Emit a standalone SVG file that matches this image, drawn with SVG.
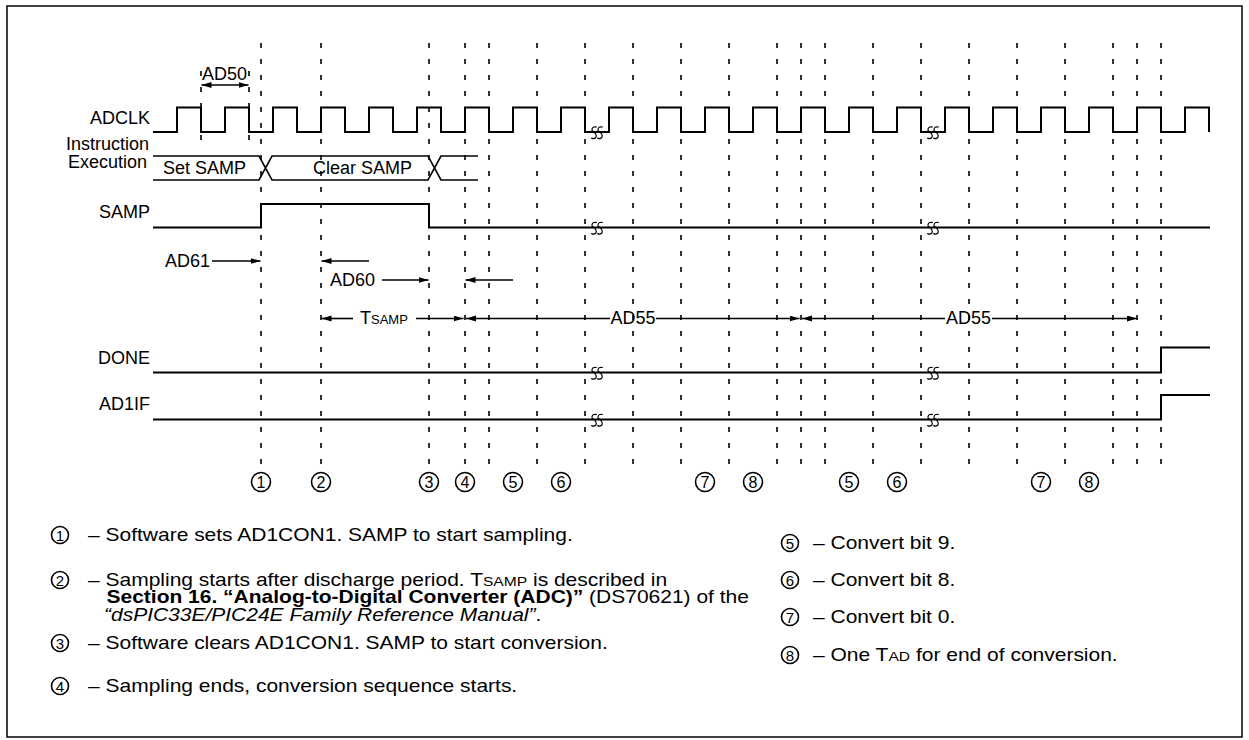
<svg xmlns="http://www.w3.org/2000/svg" width="1249" height="740" viewBox="0 0 1249 740">
<style>
text{font-family:"Liberation Sans",Arial,Helvetica,sans-serif;fill:#000}
.lbl{font-size:18px}
.sm{font-size:13px}
.leg{font-size:17.5px}
.legs{font-size:13px}
.num{font-size:16px;text-anchor:middle}
.lnum{font-size:15px;text-anchor:middle}
.wave{fill:none;stroke:#000;stroke-width:2}
.bus{fill:none;stroke:#000;stroke-width:1.6}
.dash{stroke:#000;stroke-width:1.6;stroke-dasharray:5 11}
.arr{stroke:#000;stroke-width:1.6;fill:none;marker-end:url(#ah)}
.arr2{stroke:#000;stroke-width:1.6;fill:none;marker-start:url(#ah);marker-end:url(#ah)}
.sq{fill:none;stroke:#000;stroke-width:1.2}
.circ{fill:none;stroke:#000;stroke-width:1.6}
</style>
<defs>
<marker id="ah" markerUnits="userSpaceOnUse" markerWidth="11" markerHeight="7" refX="10" refY="3" orient="auto-start-reverse"><path d="M0,0 L10,3 L0,6 z" fill="#000"/></marker>
<path id="s" d="M2.8,-5.5 Q-2.5,-6.5 -2,-2 Q2.8,1.5 2.2,4.2 Q1.2,7 -2.8,5.6"/>
</defs>
<rect x="7" y="6" width="1235" height="731" fill="none" stroke="#000" stroke-width="1.5"/>

<g id="gridlines">
<line class="dash" x1="201" y1="71" x2="201" y2="148"/>
<line class="dash" x1="249" y1="71" x2="249" y2="148"/>
<path class="dash" d="M261,43V464M321,43V464M429,43V464M465,43V464M489,43V464M537,43V464M585,43V464M633,43V464M681,43V464M729,43V464M777,43V464M801,43V464M825,43V464M873,43V464M921,43V464M969,43V464M1017,43V464M1065,43V464M1113,43V464M1137,43V464M1161,43V464"/>
</g>

<g id="sig-adclk">
<text class="lbl" x="150" y="123.5" text-anchor="end">ADCLK</text>
<path class="wave" d="M153,132H177V107.5H201V132H225V107.5H249V132H273V107.5H297V132H321V107.5H345V132H369V107.5H393V132H417V107.5H441V132H465V107.5H489V132H513V107.5H537V132H561V107.5H585V132H609V107.5H633V132H657V107.5H681V132H705V107.5H729V132H753V107.5H777V132H801V107.5H825V132H849V107.5H873V132H897V107.5H921V132H945V107.5H969V132H993V107.5H1017V132H1041V107.5H1065V132H1089V107.5H1113V132H1137V107.5H1161V132H1185V107.5H1209V132"/>
<use href="#s" class="sq" x="594" y="132.5"/><use href="#s" class="sq" x="600" y="132.5"/>
<use href="#s" class="sq" x="930" y="132.5"/><use href="#s" class="sq" x="936" y="132.5"/>
</g>

<g id="sig-instr">
<text class="lbl" x="149" y="150" text-anchor="end">Instruction</text>
<text class="lbl" x="147" y="168" text-anchor="end">Execution</text>
<path class="bus" d="M153,156H259L272,180H428L441,156H478M153,180H259L272,156H428L441,180H478"/>
<text class="lbl" x="163" y="174">Set SAMP</text>
<text class="lbl" x="313" y="174">Clear SAMP</text>
</g>

<g id="sig-samp">
<text class="lbl" x="150" y="218" text-anchor="end">SAMP</text>
<path class="wave" d="M153,227.5H261V204H429V227.5H1210"/>
<use href="#s" class="sq" x="594" y="228"/><use href="#s" class="sq" x="600" y="228"/>
<use href="#s" class="sq" x="930" y="228"/><use href="#s" class="sq" x="936" y="228"/>
</g>

<g id="sig-done">
<text class="lbl" x="150" y="363.5" text-anchor="end">DONE</text>
<path class="wave" d="M153,372.5H1161V347.5H1210"/>
<use href="#s" class="sq" x="594" y="373"/><use href="#s" class="sq" x="600" y="373"/>
<use href="#s" class="sq" x="930" y="373"/><use href="#s" class="sq" x="936" y="373"/>
</g>

<g id="sig-ad1if">
<text class="lbl" x="150" y="410" text-anchor="end">AD1IF</text>
<path class="wave" d="M153,419.5H1161V395H1210"/>
<use href="#s" class="sq" x="594" y="420"/><use href="#s" class="sq" x="600" y="420"/>
<use href="#s" class="sq" x="930" y="420"/><use href="#s" class="sq" x="936" y="420"/>
</g>

<g id="connectors">
<path class="arr2" d="M201.5,85H248.5"/>
<path class="arr" d="M212,261H260.5"/>
<path class="arr" d="M369,261H321.5"/>
<path class="arr" d="M382,280H428.5"/>
<path class="arr" d="M513,280H465.5"/>
<path class="arr" d="M353,318.5H321.5"/>
<path class="arr" d="M416,318.5H463.5"/>
<path class="arr" d="M610,318.5H466"/>
<path class="arr" d="M656,318.5H799.5"/>
<path class="arr" d="M945,318.5H802"/>
<path class="arr" d="M992,318.5H1137"/>
</g>

<g id="timing-labels">
<text class="lbl" x="224.5" y="79.5" text-anchor="middle">AD50</text>
<text class="lbl" x="165" y="266.5">AD61</text>
<text class="lbl" x="330" y="285.5">AD60</text>
<text class="lbl" x="360" y="323.5">T<tspan class="sm">SAMP</tspan></text>
<text class="lbl" x="633" y="323.5" text-anchor="middle">AD55</text>
<text class="lbl" x="968.5" y="323.5" text-anchor="middle">AD55</text>
</g>

<g id="markers">
<circle class="circ" cx="261" cy="482" r="9.5"/><text class="num" x="261" y="488">1</text>
<circle class="circ" cx="321" cy="482" r="9.5"/><text class="num" x="321" y="488">2</text>
<circle class="circ" cx="429" cy="482" r="9.5"/><text class="num" x="429" y="488">3</text>
<circle class="circ" cx="465" cy="482" r="9.5"/><text class="num" x="465" y="488">4</text>
<circle class="circ" cx="513" cy="482" r="9.5"/><text class="num" x="513" y="488">5</text>
<circle class="circ" cx="561" cy="482" r="9.5"/><text class="num" x="561" y="488">6</text>
<circle class="circ" cx="705" cy="482" r="9.5"/><text class="num" x="705" y="488">7</text>
<circle class="circ" cx="753" cy="482" r="9.5"/><text class="num" x="753" y="488">8</text>
<circle class="circ" cx="849" cy="482" r="9.5"/><text class="num" x="849" y="488">5</text>
<circle class="circ" cx="897" cy="482" r="9.5"/><text class="num" x="897" y="488">6</text>
<circle class="circ" cx="1041" cy="482" r="9.5"/><text class="num" x="1041" y="488">7</text>
<circle class="circ" cx="1089" cy="482" r="9.5"/><text class="num" x="1089" y="488">8</text>
</g>

<g id="legend">
<circle class="circ" cx="60" cy="535" r="8.5"/><text class="lnum" x="60" y="540.5">1</text>
<text class="leg" transform="translate(88,540.5) scale(1.2,1)">– Software sets AD1CON1. SAMP to start sampling.</text>
<circle class="circ" cx="60" cy="580" r="8.5"/><text class="lnum" x="60" y="585.5">2</text>
<text class="leg" transform="translate(88,585.5) scale(1.2,1)">– Sampling starts after discharge period. T<tspan class="legs">SAMP</tspan> is described in</text>
<text class="leg" transform="translate(106.5,603) scale(1.2,1)"><tspan font-weight="bold">Section 16. “Analog-to-Digital Converter (ADC)”</tspan> (DS70621) of the</text>
<text class="leg" transform="translate(104,620.5) scale(1.2,1)"><tspan font-style="italic">“dsPIC33E/PIC24E Family Reference Manual”</tspan>.</text>
<circle class="circ" cx="60" cy="643" r="8.5"/><text class="lnum" x="60" y="648.5">3</text>
<text class="leg" transform="translate(88,648.5) scale(1.2,1)">– Software clears AD1CON1. SAMP to start conversion.</text>
<circle class="circ" cx="60" cy="686" r="8.5"/><text class="lnum" x="60" y="691.5">4</text>
<text class="leg" transform="translate(88,691.5) scale(1.2,1)">– Sampling ends, conversion sequence starts.</text>
<circle class="circ" cx="790" cy="543" r="8.5"/><text class="lnum" x="790" y="548.5">5</text>
<text class="leg" transform="translate(813,548.5) scale(1.2,1)">– Convert bit 9.</text>
<circle class="circ" cx="790" cy="580" r="8.5"/><text class="lnum" x="790" y="585.5">6</text>
<text class="leg" transform="translate(813,585.5) scale(1.2,1)">– Convert bit 8.</text>
<circle class="circ" cx="790" cy="617" r="8.5"/><text class="lnum" x="790" y="622.5">7</text>
<text class="leg" transform="translate(813,622.5) scale(1.2,1)">– Convert bit 0.</text>
<circle class="circ" cx="790" cy="655" r="8.5"/><text class="lnum" x="790" y="660.5">8</text>
<text class="leg" transform="translate(813,660.5) scale(1.2,1)">– One T<tspan class="legs">AD</tspan> for end of conversion.</text>
</g>
</svg>
